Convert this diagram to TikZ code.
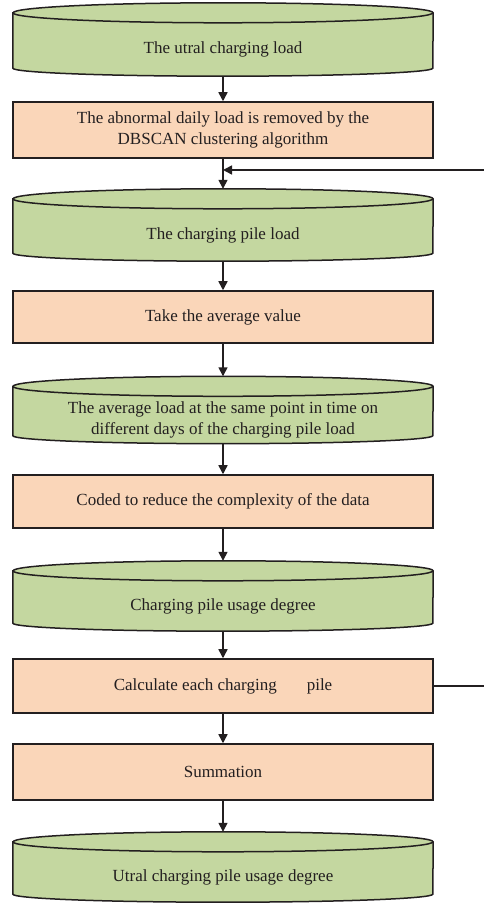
\documentclass[tikz,border=0pt]{standalone}
\usepackage{fontspec}
\setmainfont{Liberation Serif}
\usepackage{tikz}
\usetikzlibrary{arrows.meta,backgrounds,calc}

\definecolor{drumgreen}{RGB}{196,215,160}
\definecolor{boxorange}{RGB}{250,214,185}
\definecolor{inkline}{RGB}{35,31,32}

\tikzset{
  stepbox/.style={draw=inkline, line width=1.5pt, fill=boxorange, minimum width=420pt,
    inner sep=0pt, align=center, text=inkline, font=\fontsize{17}{21}\selectfont},
  drumbox/.style={minimum width=420pt, inner sep=0pt, align=center, text=inkline,
    font=\fontsize{17}{21}\selectfont},
  drumline/.style={draw=inkline, line width=1.5pt, fill=drumgreen},
  arr/.style={draw=inkline, line width=1.5pt, -{Triangle[length=9pt,width=9pt]}},
}

% cylinder outline behind a drumbox node
\newcommand{\drum}[1]{%
  \begin{scope}[on background layer]
    \filldraw[drumline] ([yshift=10pt]#1.north west) -- ([yshift=8pt]#1.south west)
      arc[start angle=180, end angle=360, x radius=210pt, y radius=8pt]
      -- ([yshift=10pt]#1.north east)
      arc[start angle=0, end angle=180, x radius=210pt, y radius=10pt] -- cycle;
    \draw[drumline, fill=none] ([yshift=10pt]#1.north west)
      arc[start angle=180, end angle=360, x radius=210pt, y radius=10pt];
  \end{scope}
  \coordinate (#1-top) at ([yshift=20pt]#1.north);
}

\begin{document}
\begin{tikzpicture}[x=1pt,y=1pt]
    \useasboundingbox (0,0) rectangle (484,903);
    % Steps
    \node[drumbox, minimum height=53pt] (load) at (223,853.5) {The utral charging load}; \drum{load}
    \node[stepbox, minimum height=56pt] (dbscan) at (223,773) {The abnormal daily load is removed by the\\ DBSCAN clustering algorithm};
    \node[drumbox, minimum height=52pt] (pileload) at (223,668) {The charging pile load}; \drum{pileload}
    \node[stepbox, minimum height=52pt] (average) at (223,586) {Take the average value};
    \node[drumbox, minimum height=47pt] (samepoint) at (223,483) {The average load at the same point in time on\\ different days of the charging pile load}; \drum{samepoint}
    \node[stepbox, minimum height=53pt] (coded) at (223,401.5) {Coded to reduce the complexity of the data};
    \node[drumbox, minimum height=50pt] (usage) at (223,297) {Charging pile usage degree}; \drum{usage}
    \node[stepbox, minimum height=54pt] (calc) at (223,217) {Calculate each charging\hspace{30pt}pile};
    \node[stepbox, minimum height=56pt] (summation) at (223,131) {Summation};
    \node[drumbox, minimum height=50pt] (utral) at (223,26) {Utral charging pile usage degree}; \drum{utral}
    % Flow
    \draw[arr] (load.south) -- (dbscan.north);
    \draw[arr] (dbscan.south) -- (pileload-top);
    \draw[arr] (pileload.south) -- (average.north);
    \draw[arr] (average.south) -- (samepoint-top);
    \draw[arr] (samepoint.south) -- (coded.north);
    \draw[arr] (coded.south) -- (usage-top);
    \draw[arr] (usage.south) -- (calc.north);
    \draw[arr] (calc.south) -- (summation.north);
    \draw[arr] (summation.south) -- (utral-top);
    % Feedback
    \coordinate (backout) at (484,217);
    \coordinate (backin) at (484,733);
    \draw[draw=inkline, line width=1.5pt] (calc.east) -- (backout);
    \draw[arr] (backin) -- (backin -| dbscan.south);
\end{tikzpicture}
\end{document}
